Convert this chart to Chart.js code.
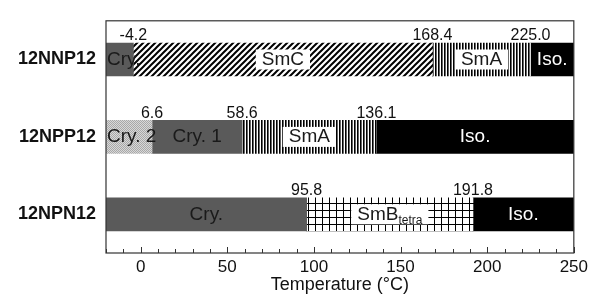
<!DOCTYPE html>
<html>
<head>
<meta charset="utf-8">
<script src="https://cdn.jsdelivr.net/npm/chart.js@4/dist/chart.umd.min.js"></script>
<style>
html, body { margin: 0; padding: 0; background: #fff; }
#wrap { width: 592px; height: 296px; }
</style>
</head>
<body>
<div id="wrap"><canvas id="chart"></canvas></div>
<script>
// -------------------- data --------------------//
var categories = ['12NNP12', '12NPP12', '12NPN12'];
var nnpBounds = [-4.2, 168.4, 225.0];
var nnpPhases = ['Cry.', 'SmC', 'SmA', 'Iso.'];
var nppBounds = [6.6, 58.6, 136.1];
var nppPhases = ['Cry. 2', 'Cry. 1', 'SmA', 'Iso.'];
var npnBounds = [95.8, 191.8];
var npnPhases = ['Cry.', 'SmB_tetra', 'Iso.'];
var tempMin = -20;
var tempMax = 250;
var tickLabels = [0, 50, 100, 150, 200, 250];

var FONT = "'Liberation Sans', Arial, sans-serif";

// -------------------- fills --------------------//
function makePattern(w, h, draw) {
    var c = document.createElement('canvas');
    c.width = w; c.height = h;
    var g = c.getContext('2d');
    g.fillStyle = '#fff';
    g.fillRect(0, 0, w, h);
    draw(g, w, h);
    return g.createPattern(c, 'repeat');
}
var diagFill = makePattern(6, 6, function (g, w, h) {
    g.strokeStyle = '#000';
    g.lineWidth = 2;
    g.beginPath();
    g.moveTo(0, h); g.lineTo(w, 0);
    g.moveTo(-1, 1); g.lineTo(1, -1);
    g.moveTo(w - 1, h + 1); g.lineTo(w + 1, h - 1);
    g.stroke();
});
var vertFill = makePattern(3, 3, function (g) {
    g.fillStyle = '#000';
    g.fillRect(0, 0, 1.6, 3);
});
var gridFill = makePattern(7, 7, function (g) {
    g.fillStyle = '#000';
    g.fillRect(0, 0, 1, 7);
    g.fillRect(0, 0, 7, 1);
});
var dotFill = makePattern(2, 2, function (g) {
    g.fillStyle = '#d8d8d8';
    g.fillRect(0, 0, 2, 2);
    g.fillStyle = '#a8a8a8';
    g.fillRect(0, 0, 1, 1);
    g.fillRect(1, 1, 1, 1);
});
var fills = {
    'Cry.': '#5a5a5a',
    'Cry. 1': '#5a5a5a',
    'Cry. 2': dotFill,
    'SmC': diagFill,
    'SmA': vertFill,
    'SmB_tetra': gridFill,
    'Iso.': '#000'
};
var boxed = ['SmC', 'SmA', 'SmB_tetra'];

var rows = [
    { bounds: nnpBounds, phases: nnpPhases },
    { bounds: nppBounds, phases: nppPhases },
    { bounds: npnBounds, phases: npnPhases }
];

var datasets = [];
for (var j = 0; j < 4; j++) {
    datasets.push({
        data: rows.map(function (r) {
            if (j >= r.phases.length) return null;
            var b = [tempMin].concat(r.bounds, [tempMax]);
            return [b[j], b[j + 1]];
        }),
        backgroundColor: rows.map(function (r) {
            return j < r.phases.length ? fills[r.phases[j]] : 'rgba(0,0,0,0)';
        }),
        borderWidth: 0,
        barThickness: 33,
        grouped: false
    });
}

// labels, border and inward ticks
var phasePlugin = {
    id: 'phaseLabels',
    afterDatasetsDraw: function (chart) {
        var ctx = chart.ctx, area = chart.chartArea, xs = chart.scales.x;
        ctx.save();
        // phase names
        rows.forEach(function (r, i) {
            r.phases.forEach(function (name, k) {
                var bar = chart.getDatasetMeta(k).data[i];
                var p = bar.getProps(['x', 'y', 'base', 'height'], true);
                var left = Math.min(p.x, p.base), right = Math.max(p.x, p.base);
                var parts = name.split('_');
                ctx.font = '19px ' + FONT;
                var w = ctx.measureText(parts[0]).width;
                var subW = 0;
                if (parts[1]) {
                    ctx.font = '12px ' + FONT;
                    subW = ctx.measureText(parts[1]).width;
                }
                var total = w + subW;
                var tx = total + 4 > right - left ? left + 1 : (left + right) / 2 - total / 2;
                if (boxed.indexOf(name) >= 0) {
                    ctx.fillStyle = '#fff';
                    ctx.fillRect(tx - 6, p.y - 10, total + 12, 20);
                }
                ctx.fillStyle = name === 'Iso.' ? '#fff' : '#1a1a1a';
                ctx.textAlign = 'left';
                ctx.textBaseline = 'middle';
                ctx.font = '19px ' + FONT;
                ctx.fillText(parts[0], tx, p.y);
                if (parts[1]) {
                    ctx.font = '12px ' + FONT;
                    ctx.fillText(parts[1], tx + w, p.y + 6);
                }
            });
            // transition temperatures
            var top = chart.getDatasetMeta(0).data[i];
            var tp = top.getProps(['y', 'height'], true);
            ctx.fillStyle = '#111';
            ctx.font = '16px ' + FONT;
            ctx.textAlign = 'center';
            ctx.textBaseline = 'bottom';
            r.bounds.forEach(function (b) {
                ctx.fillText(b.toFixed(1), xs.getPixelForValue(b), tp.y - tp.height / 2 + 1);
            });
        });
        // frame
        ctx.strokeStyle = '#333';
        ctx.lineWidth = 1.2;
        ctx.strokeRect(area.left, area.top, area.right - area.left, area.bottom - area.top);
        // inward ticks
        ctx.beginPath();
        for (var v = tempMin; v <= tempMax; v += 10) {
            var px = Math.round(xs.getPixelForValue(v)) + 0.5;
            var len = v % 50 === 0 ? 6 : 4;
            ctx.moveTo(px, area.bottom);
            ctx.lineTo(px, area.bottom - len);
        }
        ctx.lineWidth = 1;
        ctx.stroke();
        ctx.restore();
    }
};

var ctx = document.querySelector('#chart').getContext('2d');
var chart = new Chart(ctx, {
    type: 'bar',
    data: { labels: categories, datasets: datasets },
    options: {
        indexAxis: 'y',
        responsive: true,
        maintainAspectRatio: false,
        animation: false,
        layout: { padding: { left: 10, right: 16, top: 11, bottom: 0 } },
        plugins: { legend: { display: false }, tooltip: { enabled: false } },
        scales: {
            x: {
                type: 'linear',
                min: tempMin,
                max: tempMax,
                grid: { display: false, drawTicks: false },
                border: { display: false },
                ticks: {
                    stepSize: 10,
                    autoSkip: false,
                    maxRotation: 0,
                    padding: 4,
                    color: '#111',
                    font: { family: FONT, size: 17 },
                    callback: function (v) { return tickLabels.indexOf(v) >= 0 ? v : ''; }
                },
                title: {
                    display: true,
                    text: 'Temperature (°C)',
                    color: '#111',
                    padding: 0,
                    font: { family: FONT, size: 18 }
                },
                afterFit: function (s) { s.height = 43; }
            },
            y: {
                grid: { display: false, drawTicks: false },
                border: { display: false },
                ticks: {
                    color: '#111',
                    padding: 10,
                    font: { family: FONT, size: 18, weight: 'bold' }
                },
                afterFit: function (s) { s.width = 96; }
            }
        }
    },
    plugins: [phasePlugin]
});
</script>
</body>
</html>
